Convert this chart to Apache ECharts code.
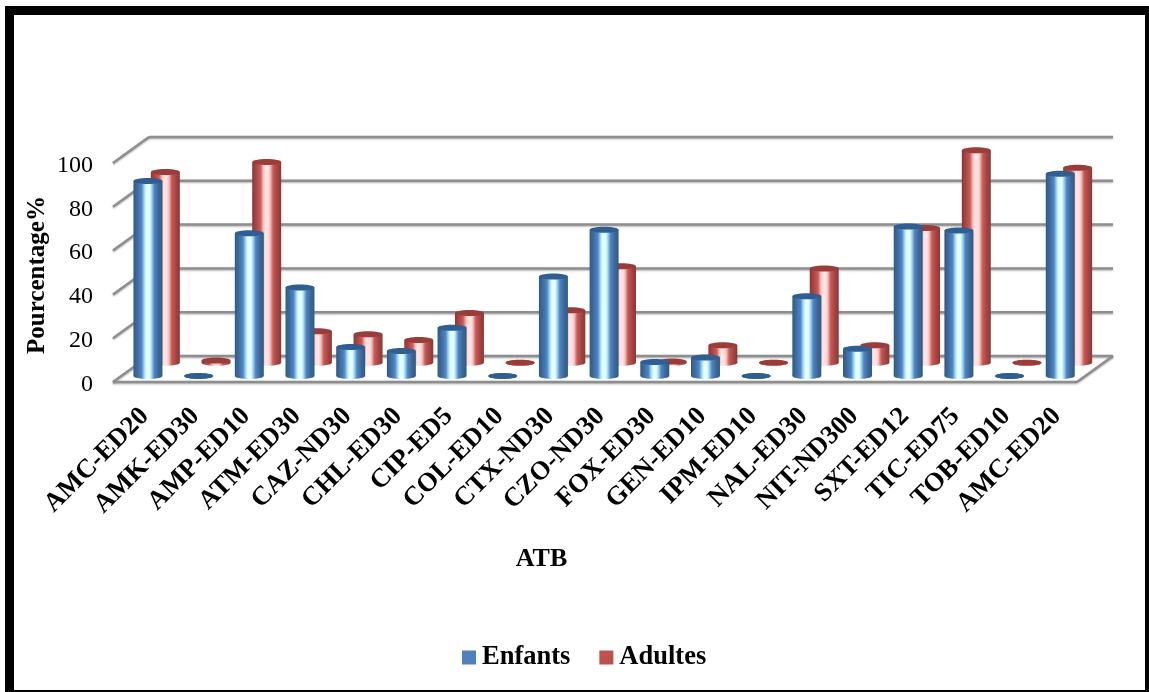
<!DOCTYPE html>
<html><head><meta charset="utf-8">
<style>html,body{margin:0;padding:0;background:#fff;overflow:hidden}#c{width:1149px;height:692px}</style>
<script src="https://cdn.jsdelivr.net/npm/echarts@6/dist/echarts.min.js"></script>
</head><body><div id="c"></div>
<script>
const categories = ['AMC-ED20','AMK-ED30','AMP-ED10','ATM-ED30','CAZ-ND30','CHL-ED30','CIP-ED5','COL-ED10','CTX-ND30','CZO-ND30','FOX-ED30','GEN-ED10','IPM-ED10','NAL-ED30','NIT-ND300','SXT-ED12','TIC-ED75','TOB-ED10','AMC-ED20'];
const enfants = [89,0,65.2,40.4,13.2,11.4,22,0,45.4,66.8,6.4,8.4,0,36.4,12.4,68.3,66.4,0,92.4];
const adultes = [87.1,1,91.6,14.4,13,10.4,22.7,0,24,44,0.5,8,0,43,8,61.5,97,0,89];
const yTicks = [0,20,40,60,80,100];
const serif = '"Liberation Serif","Times New Roman",serif';
const DX = 36, DY = -26;
const grey = '#8e8e8e';

function grad(stops){
  return {type:'linear',x:0,y:0,x2:1,y2:0,colorStops:stops.map(s=>({offset:s[0],color:s[1]}))};
}
const blueGrad = grad([[0,'#2f5b88'],[.12,'#3c6a9c'],[.28,'#4f86c4'],[.38,'#a8dcf8'],[.45,'#e6ffff'],[.55,'#e6ffff'],[.62,'#a8dcf8'],[.72,'#4f85c2'],[.88,'#3a6697'],[1,'#315a86']]);
const redGrad = grad([[0,'#8a3735'],[.12,'#a54542'],[.28,'#c9595a'],[.38,'#f5b9b8'],[.45,'#ffe4e1'],[.55,'#ffe4e1'],[.62,'#f5c0be'],[.72,'#c85856'],[.88,'#a04340'],[1,'#8c3836']]);

function cylinder(fill, topColor, ox, oy){
  return function(params, api){
    const p0 = api.coord([api.value(0), 0]);
    const p1 = api.coord([api.value(0), api.value(1)]);
    const cx = p0[0] + ox, by = p0[1] + oy, ty = p1[1] + oy;
    const rx = 14.5, ry = 3;
    return {type:'group', children:[
      {type:'ellipse', shape:{cx:cx,cy:by,rx:rx,ry:ry}, style:{fill:fill}},
      {type:'rect', shape:{x:cx-rx,y:ty,width:rx*2,height:by-ty}, style:{fill:fill}},
      {type:'ellipse', shape:{cx:cx,cy:ty,rx:rx,ry:ry}, style:{fill:topColor}}
    ]};
  };
}

function wallItem(params, api){
  const v = api.value(0);
  const w = api.size([1,0])[0];
  const a = api.coord([0, v]);
  const xl = a[0] - w/2, y = a[1];
  const xr = xl + w * categories.length + 1;
  const st = {stroke:grey, lineWidth:2.5, fill:null, shadowColor:'rgba(0,0,0,0.3)', shadowBlur:2, shadowOffsetY:1};
  const children = [
    {type:'line', shape:{x1:xl,y1:y,x2:xl+DX,y2:y+DY}, style:st},
    {type:'line', shape:{x1:xl+DX,y1:y+DY,x2:xr+DX,y2:y+DY}, style:st}
  ];
  if (v === 0) {
    children.push({type:'line', shape:{x1:xl,y1:y,x2:xr,y2:y}, style:st});
    children.push({type:'line', shape:{x1:xr,y1:y,x2:xr+DX,y2:y+DY}, style:st});
  }
  return {type:'group', children};
}

const chart = echarts.init(document.getElementById('c'), null, {renderer:'canvas'});
chart.setOption({
  animation:false,
  backgroundColor:'#fff',
  grid:{left:113,width:963,top:163,bottom:310,containLabel:false,outerBoundsMode:'none'},
  legend:{
    left:462, top:644, padding:0, itemWidth:14, itemHeight:14, itemGap:29, icon:'rect',
    data:['Enfants','Adultes'],
    textStyle:{fontFamily:serif,fontWeight:'bold',fontSize:26.5,color:'#000',padding:[0,0,0,1]}
  },
  xAxis:{
    type:'category', data:categories, boundaryGap:true,
    name:'ATB', nameLocation:'middle', nameGap:164,
    nameTextStyle:{fontFamily:serif,fontWeight:'bold',fontSize:26,color:'#000',padding:[0,106,0,0]},
    axisLine:{show:false}, axisTick:{show:false},
    axisLabel:{interval:0,rotate:45,margin:24,verticalAlign:'top',lineHeight:18,fontFamily:serif,fontWeight:'bold',fontSize:26.5,color:'#000'}
  },
  yAxis:{
    type:'value', min:0, max:100, interval:20,
    name:'Pourcentage%', nameLocation:'middle', nameGap:63, nameRotate:90, nameMoveOverlap:false,
    nameTextStyle:{fontFamily:serif,fontWeight:'bold',fontSize:25,color:'#000',padding:[0,5,0,0]},
    axisLine:{show:false}, axisTick:{show:false}, splitLine:{show:false},
    axisLabel:{margin:20,fontFamily:serif,fontSize:24,color:'#000',verticalAlign:'top',lineHeight:5}
  },
  series:[
    {type:'custom', name:'walls', data:yTicks.map(v=>[v]), renderItem:wallItem, silent:true, z:1, encode:{x:[],y:0}},
    {type:'custom', name:'Adultes', itemStyle:{color:'#c0504d'}, data:adultes.map((v,i)=>[i,v]), encode:{x:0,y:1}, renderItem:cylinder(redGrad,'#9a3d3a',27,-19.3), z:2, clip:false},
    {type:'custom', name:'Enfants', itemStyle:{color:'#4f81bd'}, data:enfants.map((v,i)=>[i,v]), encode:{x:0,y:1}, renderItem:cylinder(blueGrad,'#2f5f90',9.6,-6), z:3, clip:false}
  ],
  graphic:[
    {type:'rect', silent:true, z:100, shape:{x:9.5,y:10.5,width:1140,height:684}, style:{fill:null,stroke:'#000',lineWidth:9}}
  ]
});
</script></body></html>
